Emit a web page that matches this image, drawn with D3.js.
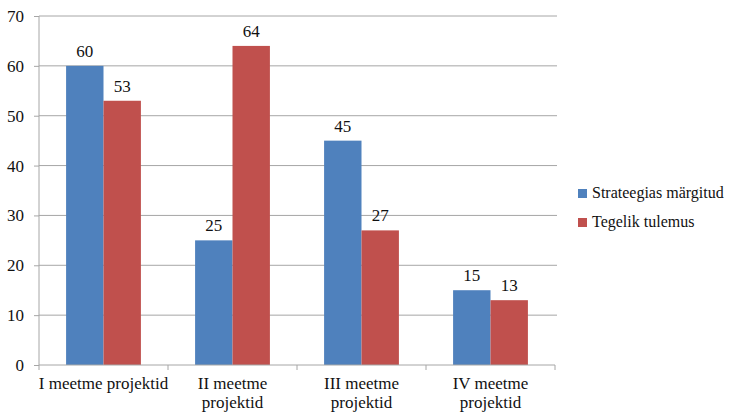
<!DOCTYPE html>
<html><head><meta charset="utf-8">
<script src="https://cdn.jsdelivr.net/npm/d3@7"></script>
</head><body style="margin:0"><svg id="c" width="729" height="415"></svg>
<script>
const categories = ["I meetme projektid", "II meetme projektid", "III meetme projektid", "IV meetme projektid"];
const categoryLines = [["I meetme projektid"], ["II meetme", "projektid"], ["III meetme", "projektid"], ["IV meetme", "projektid"]];
const seriesNames = ["Strateegias märgitud", "Tegelik tulemus"];
const strateegias = [60, 25, 45, 15];
const tegelik = [53, 64, 27, 13];
const yTicks = [0, 10, 20, 30, 40, 50, 60, 70];
const colors = ["#4f81bd", "#c0504d"];

const svg = d3.select("#c");
const L = 39, R = 555, T = 16, B = 365;
const x = d3.scaleBand().domain(categories).range([L, R]).paddingInner(0.42).paddingOuter(0.21);
const x1 = d3.scaleBand().domain(seriesNames).range([0, x.bandwidth()]);
const y = d3.scaleLinear().domain([0, 70]).range([B, T]);
const xb = d3.scaleBand().domain(categories).range([L, R]);
const setFont = (sel, size = 17) => sel.attr("font-family", "Liberation Serif").style("font-family", '"Liberation Serif"').style("font-size", size + "px").attr("fill", "#111");

// gridlines
svg.append("g").selectAll("line").data(yTicks.filter(d => d > 0)).join("line")
  .attr("x1", L).attr("x2", R + 2).attr("y1", d => y(d)).attr("y2", d => y(d))
  .attr("stroke", "#a6a6a6").attr("stroke-width", 1);

// y axis (lines via axis, labels drawn separately)
const ya = svg.append("g").attr("transform", `translate(${L},0)`)
  .call(d3.axisLeft(y).tickValues(yTicks).tickSize(5).tickFormat(""));
ya.select(".domain").attr("stroke", "#a6a6a6").attr("d", `M0,${T}V${B}`);
ya.selectAll(".tick line").attr("stroke", "#a6a6a6");
svg.append("g").selectAll("text").data(yTicks).join("text")
  .attr("x", L - 15).attr("y", d => y(d) + 6).attr("text-anchor", "end")
  .call(setFont).text(d => d);

// bars
const data = categories.map((c, i) => ({c, vals: [strateegias[i], tegelik[i]]}));
const g = svg.append("g").selectAll("g").data(data).join("g")
  .attr("transform", d => `translate(${x(d.c)},0)`);
g.selectAll("rect").data(d => d.vals.map((v, k) => ({v, k}))).join("rect")
  .attr("x", d => x1(seriesNames[d.k])).attr("width", x1.bandwidth())
  .attr("y", d => y(d.v)).attr("height", d => B - y(d.v))
  .attr("fill", d => colors[d.k]);
g.selectAll("text.v").data(d => d.vals.map((v, k) => ({v, k}))).join("text")
  .attr("class", "v")
  .attr("x", d => x1(seriesNames[d.k]) + x1.bandwidth() / 2)
  .attr("y", d => y(d.v) - 9)
  .attr("text-anchor", "middle").call(setFont).text(d => d.v);

// x axis
svg.append("line").attr("x1", L).attr("x2", R).attr("y1", B).attr("y2", B).attr("stroke", "#a6a6a6");
const xt = categories.map(c => xb(c)).concat([R]);
svg.append("g").selectAll("line").data(xt).join("line")
  .attr("x1", d => d).attr("x2", d => d).attr("y1", B).attr("y2", B + 5).attr("stroke", "#a6a6a6");
const xl = svg.append("g").selectAll("text").data(categories).join("text")
  .attr("x", d => xb(d) + xb.bandwidth() / 2).attr("y", 389)
  .attr("text-anchor", "middle").call(setFont);
xl.each(function(d, i) {
  d3.select(this).selectAll("tspan").data(categoryLines[i]).join("tspan")
    .attr("x", xb(d) + xb.bandwidth() / 2).attr("dy", (t, j) => j ? 19 : 0).text(t => t);
});

// legend
const lg = svg.append("g").attr("transform", "translate(578,189)");
lg.selectAll("rect").data(seriesNames).join("rect")
  .attr("x", 0).attr("y", (s, k) => k * 29).attr("width", 9).attr("height", 9).attr("fill", (s, k) => colors[k]);
lg.selectAll("text").data(seriesNames).join("text")
  .attr("x", 14).attr("y", (s, k) => k * 29 + 9).call(setFont, 16).text(s => s);
</script></body></html>
